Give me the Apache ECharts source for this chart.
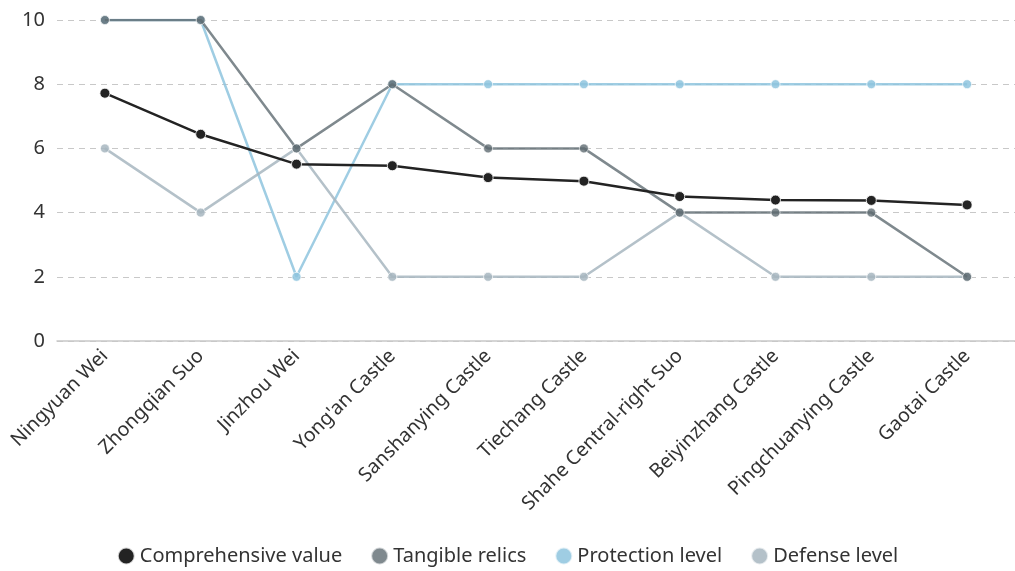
<!DOCTYPE html>
<html>
<head>
<meta charset="utf-8">
<script src="https://cdn.jsdelivr.net/npm/echarts@6/dist/echarts.min.js"></script>
<style>
    html, body { margin: 0; padding: 0; background: #fff; }
    #chart { width: 1015px; height: 571px; }
</style>
</head>
<body>
<div id="chart"></div>
<script>
    let categories = ['Ningyuan Wei', 'Zhongqian Suo', 'Jinzhou Wei', "Yong'an Castle", 'Sanshanying Castle',
        'Tiechang Castle', 'Shahe Central-right Suo', 'Beiyinzhang Castle', 'Pingchuanying Castle', 'Gaotai Castle']
    let seriesNames = ['Comprehensive value', 'Tangible relics', 'Protection level', 'Defense level']
    let comprehensive = [7.72, 6.44, 5.51, 5.46, 5.09, 4.98, 4.50, 4.39, 4.38, 4.24]
    let tangible = [10, 10, 6, 8, 6, 6, 4, 4, 4, 2]
    let protection = [10, 10, 2, 8, 8, 8, 8, 8, 8, 8]
    let defense = [6, 4, 6, 2, 2, 2, 4, 2, 2, 2]
    let yTicks = [0, 2, 4, 6, 8, 10]

    let colors = ['#232323', '#5f6b72', '#8ec4de', '#a7b6c0']
    let opacities = [1, 0.8, 0.85, 0.85]
    let values = [comprehensive, tangible, protection, defense]
    let zs = [5, 4, 2, 3]

    let myChart = echarts.init(document.getElementById('chart'))
    let seriesData = []
    for (let i = 0; i < seriesNames.length; i++) {
        seriesData.push({
            name: seriesNames[i],
            type: 'line',
            z: zs[i],
            symbol: 'circle',
            symbolSize: i === 0 ? 10 : 9,
            itemStyle: {
                color: colors[i],
                opacity: opacities[i],
                borderColor: 'rgba(255,255,255,0.8)',
                borderWidth: 1
            },
            lineStyle: {
                width: 2.5,
                color: colors[i],
                opacity: opacities[i]
            },
            emphasis: { disabled: true },
            data: values[i]
        })
    }

    let option = {
        animation: false,
        color: colors,
        textStyle: { fontFamily: 'Noto Sans' },
        grid: {
            top: 20,
            left: 57,
            width: 966,
            bottom: 230
        },
        legend: {
            bottom: 0,
            left: 'center',
            icon: 'circle',
            itemWidth: 17,
            itemHeight: 17,
            itemGap: 28,
            data: seriesNames,
            textStyle: { color: '#333', fontSize: 20, fontFamily: 'Noto Sans' }
        },
        xAxis: {
            type: 'category',
            data: categories,
            boundaryGap: true,
            axisTick: { alignWithLabel: true, length: 6, lineStyle: { color: '#c8c8c8' } },
            axisLine: { lineStyle: { color: '#c8c8c8', width: 1.5 } },
            axisLabel: {
                rotate: 45,
                interval: 0,
                color: '#333',
                fontSize: 19.5,
                margin: 12
            }
        },
        yAxis: {
            type: 'value',
            min: yTicks[0],
            max: yTicks[yTicks.length - 1],
            interval: 2,
            axisLine: { show: false },
            axisTick: { show: false },
            axisLabel: { color: '#333', fontSize: 20, margin: 12 },
            splitLine: {
                lineStyle: { type: [6, 5], color: '#c8c8c8', width: 1.2 }
            }
        },
        series: seriesData
    }
    myChart.setOption(option)
</script>
</body>
</html>
